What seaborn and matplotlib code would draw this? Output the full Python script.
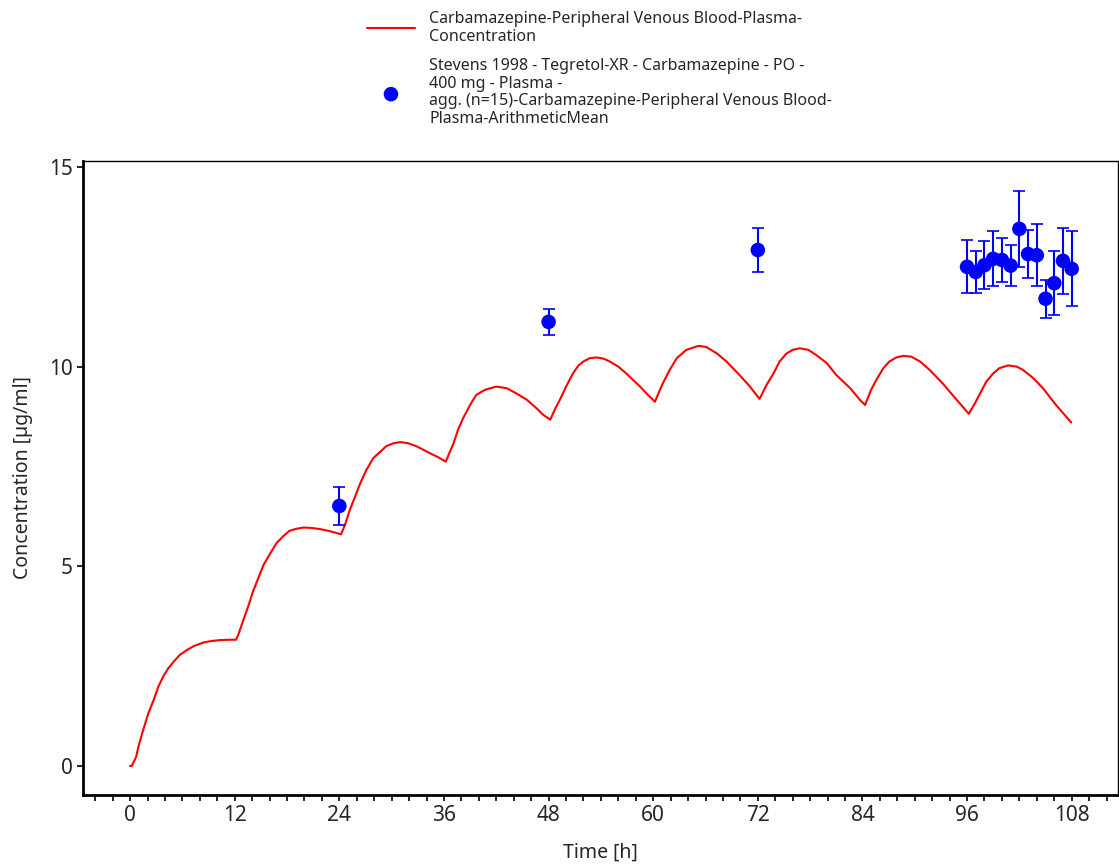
import numpy as np
import pandas as pd
import matplotlib
matplotlib.use('Agg')
import matplotlib.pyplot as plt
import seaborn as sns
from matplotlib.ticker import MultipleLocator

# Simulated plasma concentration
sim_time = [0.0, 0.2, 0.7, 0.95, 1.5, 2.1, 2.7, 3.25, 3.8, 4.4, 5.0, 5.7, 6.5, 7.3,
            8.4, 9.4, 10.3, 11.3, 12.15,
            12.4, 13.0, 13.6, 14.1, 14.7, 15.3, 16.1, 16.8, 17.6, 18.3, 19.1, 19.9,
            20.8, 21.8, 22.9, 24.2,
            24.65, 25.2, 25.8, 26.4, 27.1, 27.9, 28.7, 29.4, 30.2, 31.0, 31.9, 32.9,
            34.4, 35.35, 36.2,
            37.1, 37.6, 38.2, 39.0, 39.7, 40.7, 42.0, 43.2, 44.3, 45.5, 46.6, 47.4, 48.2,
            48.7, 49.3, 50.1, 50.8, 51.4, 52.0, 52.7, 53.5, 54.3, 55.0, 56.0, 56.9,
            58.5, 59.4, 60.2,
            60.6, 61.1, 61.9, 62.7, 63.8, 65.2, 66.1, 67.3, 68.4, 69.9, 71.1, 72.2,
            73.0, 73.8, 74.5, 75.3, 76.0, 76.8, 77.8, 78.7, 79.9, 81.0, 82.6, 83.7, 84.3,
            85.0, 85.6, 86.4, 87.1, 87.9, 88.7, 89.6, 90.6, 91.7, 93.2, 94.8, 96.2,
            96.9, 97.5, 98.2, 99.0, 99.7, 100.7, 101.7, 102.4, 103.6, 104.7, 106.2, 107.95]
sim_conc = [0.0, 0.0, 0.23, 0.48, 0.9, 1.32, 1.65, 1.99, 2.24, 2.45, 2.61, 2.78, 2.9, 3.0,
            3.09, 3.13, 3.15, 3.16, 3.16,
            3.28, 3.66, 4.03, 4.37, 4.70, 5.03, 5.33, 5.58, 5.76, 5.89, 5.94, 5.97,
            5.96, 5.93, 5.88, 5.80,
            6.04, 6.41, 6.74, 7.08, 7.41, 7.71, 7.87, 8.01, 8.08, 8.11, 8.08, 8.0,
            7.83, 7.73, 7.62,
            8.08, 8.41, 8.71, 9.04, 9.29, 9.42, 9.50, 9.46, 9.33, 9.17, 8.96, 8.79, 8.67,
            8.92, 9.17, 9.54, 9.83, 10.02, 10.13, 10.21, 10.23, 10.20, 10.13, 10.0, 9.83,
            9.50, 9.29, 9.12,
            9.33, 9.58, 9.92, 10.21, 10.42, 10.52, 10.49, 10.33, 10.13, 9.79, 9.50, 9.19,
            9.54, 9.83, 10.13, 10.33, 10.42, 10.46, 10.42, 10.29, 10.09, 9.79, 9.46, 9.17, 9.04,
            9.42, 9.67, 9.96, 10.13, 10.23, 10.27, 10.25, 10.13, 9.92, 9.58, 9.17, 8.82,
            9.08, 9.33, 9.62, 9.83, 9.96, 10.03, 10.0, 9.92, 9.71, 9.46, 9.04, 8.60]

# Observed data: Stevens 1998, arithmetic mean +- SD
obs_time = [24, 48, 72, 96, 97, 98, 99, 100, 101, 102, 103, 104, 105, 106, 107, 108]
obs_conc = [6.51, 11.12, 12.92, 12.50, 12.37, 12.54, 12.70, 12.67, 12.53, 13.45,
            12.82, 12.79, 11.70, 12.09, 12.65, 12.45]
obs_sd = [0.47, 0.32, 0.55, 0.66, 0.52, 0.60, 0.69, 0.56, 0.52, 0.96,
          0.59, 0.77, 0.47, 0.80, 0.82, 0.94]

sim_label = 'Carbamazepine-Peripheral Venous Blood-Plasma-\nConcentration'
obs_label = ('Stevens 1998 - Tegretol-XR - Carbamazepine - PO -\n400 mg - Plasma -\n'
             'agg. (n=15)-Carbamazepine-Peripheral Venous Blood-\nPlasma-ArithmeticMean')

sim = pd.DataFrame({'Time': sim_time, 'Conc': sim_conc})
obs = pd.DataFrame({'Time': obs_time, 'Conc': obs_conc, 'SD': obs_sd})

sns.set_style('white')
plt.rcParams['font.family'] = ['Noto Sans', 'DejaVu Sans']

fig = plt.figure(figsize=(11.19, 8.67), dpi=100)
ax = fig.add_axes([0.0742, 0.083, 0.9248, 0.7313])

sns.lineplot(data=sim, x='Time', y='Conc', ax=ax, color='red', linewidth=1.5,
             label=sim_label, legend=False)
ax.errorbar(obs['Time'], obs['Conc'], yerr=obs['SD'], fmt='none', ecolor='blue',
            elinewidth=1.5, capsize=4, capthick=1.2, zorder=3)
sns.scatterplot(data=obs, x='Time', y='Conc', ax=ax, color='blue', s=110,
                edgecolor='none', label=obs_label, legend=False, zorder=4)

ax.set_xlim(-5.4, 113.3)
ax.set_ylim(-0.73, 15.15)
ax.xaxis.set_major_locator(MultipleLocator(12))
ax.xaxis.set_minor_locator(MultipleLocator(2))
ax.set_yticks([0, 5, 10, 15])
ax.tick_params(axis='both', which='both', direction='out', length=4, width=1.2,
               labelsize=15, left=True, bottom=True, color='black')
ax.set_xlabel('Time [h]', fontsize=14, labelpad=12)
ax.set_ylabel('Concentration [µg/ml]', fontsize=14, labelpad=11)

for side in ['top', 'right']:
    ax.spines[side].set_linewidth(1.0)
    ax.spines[side].set_color('black')
for side in ['left', 'bottom']:
    ax.spines[side].set_linewidth(2.0)
    ax.spines[side].set_color('black')

handles, labels = ax.get_legend_handles_labels()
leg = fig.legend(handles, labels, loc='upper left', bbox_to_anchor=(0.318, 1.0),
                 frameon=False, fontsize=11.5, handlelength=3.0, labelspacing=0.85,
                 handletextpad=0.9, borderaxespad=0.3)
for t in leg.get_texts():
    t.set_linespacing(1.12)

fig.savefig('out.png', dpi=100)
